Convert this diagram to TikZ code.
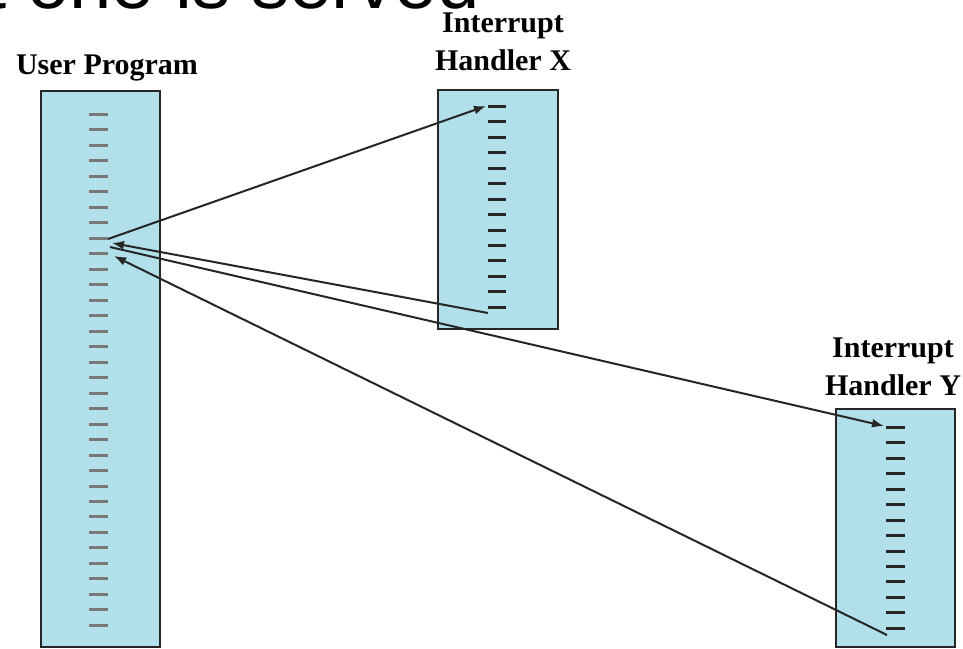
\documentclass[tikz,border=0pt]{standalone}
\usepackage{fontspec}
\setmainfont{Liberation Serif}
\newfontfamily\titlefont{Liberation Sans}
\usetikzlibrary{arrows.meta}
\definecolor{boxblue}{RGB}{178,224,234}
\definecolor{dashgray}{RGB}{120,120,120}
\tikzset{
  pbox/.style={draw=black!85, line width=2pt, fill=boxblue, inner sep=0pt, outer sep=0pt, anchor=north west},
  lbl/.style={font=\fontsize{30}{38}\selectfont\bfseries, inner sep=0pt, align=center},
  udash/.style={draw=dashgray, line width=3pt},
  hdash/.style={draw=black!85, line width=3pt},
  arr/.style={line width=2pt, draw=black!85, -{Latex[length=12pt,width=9pt]}},
}
\begin{document}
\begin{tikzpicture}[x=1pt,y=-1pt]
\useasboundingbox (0,0) rectangle (963,648);
\clip (0,0) rectangle (963,648);
\fill[white] (0,0) rectangle (963,648);
% cut-off title
\node[anchor=base west, inner sep=0pt, font=\titlefont\fontsize{76}{80}\selectfont] (title) at (-15,8) {t one is served};
% boxes
\node[pbox, minimum width=119pt, minimum height=556pt] (up) at (41,91) {};
\node[pbox, minimum width=120pt, minimum height=239pt] (hx) at (438,90) {};
\node[pbox, minimum width=119pt, minimum height=238pt] (hy) at (836,409) {};
% labels
\node[lbl, anchor=base] (upl) at (107,74) {User Program};
\node[lbl, anchor=north] (hxl) at (503,13) {Interrupt\\Handler X};
\node[lbl, anchor=north] (hyl) at (893,338) {Interrupt\\Handler Y};
% instruction dashes
\foreach \k in {0,...,33}{\pgfmathsetmacro{\yy}{round(114+15.48*\k)+0.5}\draw[udash] (89,\yy) -- (108,\yy);}
\foreach \k in {0,...,13}{\pgfmathsetmacro{\yy}{round(106+15.45*\k)+0.5}\draw[hdash] (488,\yy) -- (506,\yy);}
\foreach \k in {0,...,13}{\pgfmathsetmacro{\yy}{round(427+15.45*\k)+0.5}\draw[hdash] (886,\yy) -- (905,\yy);}
% connector end points
\coordinate (upOut1) at (108,239);
\coordinate (upIn1) at (112,243);
\coordinate (upOut2) at (110,247);
\coordinate (upIn2) at (114,256);
\coordinate (hxIn) at (486,106);
\coordinate (hxOut) at (488,313);
\coordinate (hyIn) at (884,426);
\coordinate (hyOut) at (887,635);
% connectors
\draw[arr] (upOut1) -- (hxIn);
\draw[arr] (hxOut) -- (upIn1);
\draw[arr] (upOut2) -- (hyIn);
\draw[arr] (hyOut) -- (upIn2);
\end{tikzpicture}
\end{document}
